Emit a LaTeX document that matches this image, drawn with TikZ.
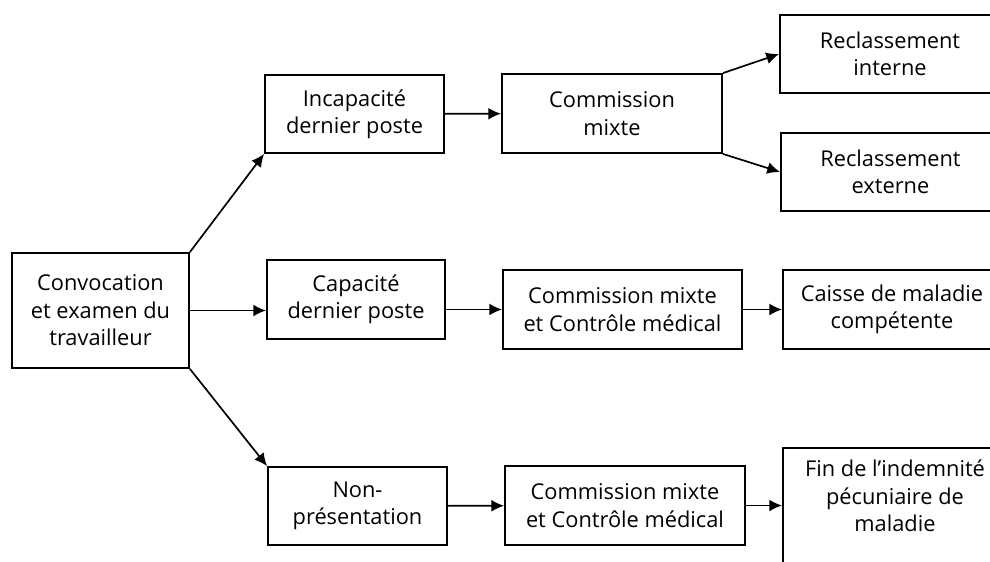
\documentclass[tikz,border=0pt]{standalone}
\usepackage{fontspec}
\setmainfont{Open Sans}
\usepackage{tikz}
\usetikzlibrary{arrows.meta}

\tikzset{
  etape/.style={draw=black, line width=1.3pt, align=center, inner sep=0pt,
    font=\fontsize{15.5}{19.5}\selectfont},
  fleche/.style={line width=1.2pt, -{Latex[length=3.2mm,width=3mm]}}
}

\begin{document}
\begin{tikzpicture}[x=0.025cm, y=-0.025cm]
  \useasboundingbox (0,0) rectangle (990,561);
  \clip (0,0) rectangle (990,561);

  % Depart
  \node[etape, minimum width=4.425cm, minimum height=2.875cm] (conv) at (100.5,310.5)
    {Convocation\\et examen du\\travailleur};

  % Colonne 2
  \node[etape, minimum width=4.475cm, minimum height=1.95cm] (inc) at (354.5,114)
    {Incapacité\\dernier poste};
  \node[etape, minimum width=4.45cm, minimum height=1.975cm] (cap) at (356,299.5)
    {Capacité\\dernier poste};
  \node[etape, minimum width=4.475cm, minimum height=1.95cm] (nonp) at (357.5,506)
    {Non-\\présentation};

  % Colonne 3
  \node[etape, minimum width=5.5cm, minimum height=1.975cm] (cmx) at (612,113.5)
    {Commission\\mixte};
  \node[etape, minimum width=5.975cm, minimum height=1.975cm] (cmc) at (622.5,309.5)
    {Commission mixte\\et Contrôle médical};
  \node[etape, minimum width=6cm, minimum height=1.975cm] (cmb) at (625,505.5)
    {Commission mixte\\et Contrôle médical};

  % Colonne 4 (coupee a droite)
  \node[etape, minimum width=5.5cm, minimum height=1.95cm] (rint) at (890,54)
    {Reclassement\\interne};
  \node[etape, minimum width=5.475cm, minimum height=1.95cm] (rext) at (890.5,172)
    {Reclassement\\externe};
  \node[etape, minimum width=5.45cm, minimum height=1.975cm] (caisse) at (892,309.5)
    {Caisse de maladie\\compétente};
  \node[etape, minimum width=5.6cm, minimum height=3.3cm, text depth=0.9cm] (fin)
    at (895,514) {Fin de l’indemnité\\pécuniaire de\\maladie};

  % Fleches
  \draw[fleche] (conv.north east) -- (inc.south west);
  \draw[fleche] (conv.east) -- (conv.east -| cap.west);
  \draw[fleche] (conv.south east) -- (nonp.north west);

  \draw[fleche] (inc) -- (cmx);
  \draw[fleche] (cmc.west -| cap.east) -- (cmc.west);
  \draw[fleche] (nonp) -- (cmb);

  \draw[fleche] (cmx.north east) -- (rint.west);
  \draw[fleche] (cmx.south east) -- (rext.west);
  \draw[fleche] (cmc) -- (caisse);
  \draw[fleche] (cmb.east) -- (cmb.east -| fin.west);
\end{tikzpicture}
\end{document}
